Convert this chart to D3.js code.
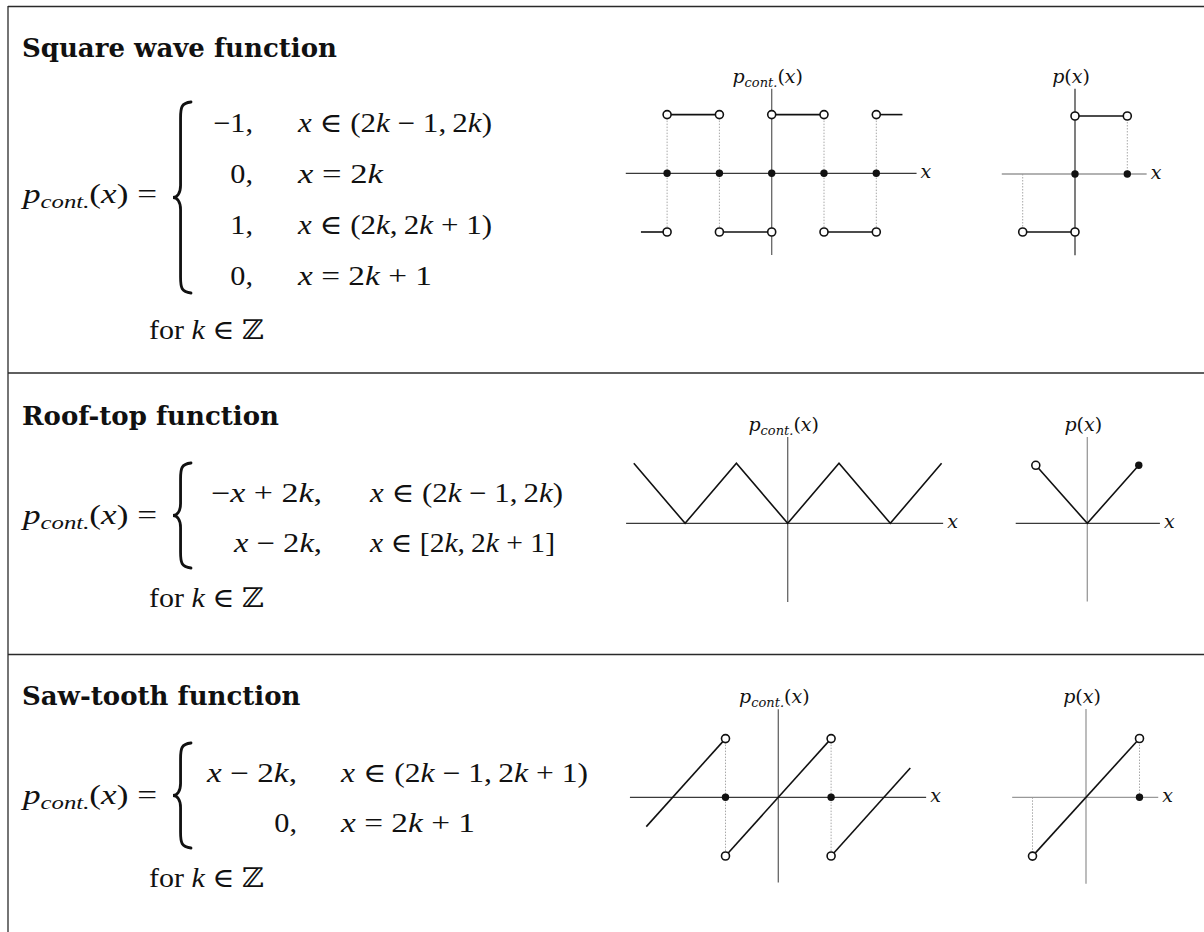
<!DOCTYPE html>
<html>
<head>
<meta charset="utf-8">
<script src="https://cdn.jsdelivr.net/npm/d3@7"></script>
<style>
  html, body { margin: 0; padding: 0; background: #fff; }
  svg { display: block; }
  text { white-space: pre; }
</style>
</head>
<body>
<svg id="chart" width="1204" height="932"></svg>
<script>
// ---------- text content ----------
const sectionTitles = ["Square wave function", "Roof-top function", "Saw-tooth function"];
const lhsText = "p";
const lhsSub = "cont.";
const quantifier = "for k \u2208 \u2124";

const squareValues = ["\u22121,", "0,", "1,", "0,"];
const squareConditions = ["x \u2208 (2k \u2212 1,\u20092k)", "x = 2k", "x \u2208 (2k,\u20092k + 1)", "x = 2k + 1"];
const roofValues = ["\u2212x + 2k,", "x \u2212 2k,"];
const roofConditions = ["x \u2208 (2k \u2212 1,\u20092k)", "x \u2208 [2k,\u20092k + 1]"];
const sawValues = ["x \u2212 2k,", "0,"];
const sawConditions = ["x \u2208 (2k \u2212 1,\u20092k + 1)", "x = 2k + 1"];

// ---------- function sketches (data units) ----------
// square wave, several periods
const squareContSegments = [[[-2.5, -1], [-2, -1]], [[-2, 1], [-1, 1]], [[-1, -1], [0, -1]],
                            [[0, 1], [1, 1]], [[1, -1], [2, -1]], [[2, 1], [2.5, 1]]];
const squareContOpen = [[-2, 1], [-1, 1], [0, 1], [1, 1], [2, 1], [-2, -1], [-1, -1], [0, -1], [1, -1], [2, -1]];
const squareContFilled = [[-2, 0], [-1, 0], [0, 0], [1, 0], [2, 0]];
const squareContGuides = [[-2, 1, -1], [-1, 1, -1], [1, 1, -1], [2, 1, -1]];
// square wave, one period
const squareSegments = [[[0, 1], [1, 1]], [[-1, -1], [0, -1]]];
const squareOpen = [[0, 1], [1, 1], [-1, -1], [0, -1]];
const squareFilled = [[0, 0], [1, 0]];
const squareGuides = [[1, 1, 0], [-1, 0, -1]];
// roof-top, several periods
const roofContSegments = [[[-3, 1], [-2, 0], [-1, 1], [0, 0], [1, 1], [2, 0], [3, 1]]];
// roof-top, one period
const roofSegments = [[[-1, 1], [0, 0], [1, 1]]];
const roofOpen = [[-1, 1]];
const roofFilled = [[1, 1]];
// saw-tooth, several periods
const sawContSegments = [[[-2.5, -0.5], [-1, 1]], [[-1, -1], [1, 1]], [[1, -1], [2.5, 0.5]]];
const sawContOpen = [[-1, 1], [-1, -1], [1, 1], [1, -1]];
const sawContFilled = [[-1, 0], [1, 0]];
const sawContGuides = [[-1, 1, -1], [1, 1, -1]];
// saw-tooth, one period
const sawSegments = [[[-1, -1], [1, 1]]];
const sawOpen = [[1, 1], [-1, -1]];
const sawFilled = [[1, 0]];
const sawGuides = [[1, 1, 0], [-1, 0, -1]];

// axis extents (data units)
const squareContExtent = { x: [-2.79, 2.77], y: [-1.39, 1.44] };
const squareExtent = { x: [-1.4, 1.37], y: [-1.4, 1.47] };
const roofContExtent = { x: [-3.15, 3.03], y: [-1.31, 1.44] };
const roofExtent = { x: [-1.39, 1.41], y: [-1.35, 1.49] };
const sawContExtent = { x: [-2.81, 2.8], y: [-1.45, 1.5] };
const sawExtent = { x: [-1.38, 1.35], y: [-1.47, 1.5] };

// ---------- styling ----------
const INK = "#111";
const DARK_AXIS = "#3a3a3a";
const MID_AXIS = "#666";
const LIGHT_AXIS = "#999";
const MATH_FONT = "'Liberation Serif', 'Times New Roman', 'DejaVu Serif', serif";
const TITLE_FONT = "'DejaVu Serif', serif";
const LABEL_FONT = "'DejaVu Serif', serif";
const MATH_SIZE = 27;
const STRETCH = 1.12;

const svg = d3.select("#chart");

// ---------- table frame ----------
const frame = svg.append("g").attr("stroke", "#2a2a2a").attr("stroke-width", 1.3).attr("fill", "none");
frame.append("line").attr("x1", 8).attr("x2", 1204).attr("y1", 6.5).attr("y2", 6.5);
frame.append("line").attr("x1", 8).attr("x2", 8).attr("y1", 6).attr("y2", 932);
[373, 654.5].forEach(y => frame.append("line").attr("x1", 8).attr("x2", 1204).attr("y1", y).attr("y2", y));

// ---------- typeset helpers ----------
function fit(t, width) {
  const L = t.node().getComputedTextLength();
  t.attr("textLength", width || L * STRETCH).attr("lengthAdjust", "spacingAndGlyphs");
}

// single letters are set in italic (math variables), words in roman
function mathText(parent, str, o) {
  const t = parent.append("text")
    .attr("x", o.x).attr("y", o.y)
    .attr("font-family", MATH_FONT).attr("font-size", o.size || MATH_SIZE)
    .attr("text-anchor", o.anchor || "start").attr("fill", INK);
  const re = /([A-Za-z]+)|([^A-Za-z]+)/g;
  let m;
  while ((m = re.exec(str))) {
    if (m[1]) t.append("tspan").attr("font-style", m[1].length === 1 ? "italic" : "normal").text(m[1]);
    else t.append("tspan").text(m[2]);
  }
  fit(t, o.width);
  return t;
}

function lhs(parent, x, y, width) {
  const t = parent.append("text").attr("x", x).attr("y", y)
    .attr("font-family", MATH_FONT).attr("font-size", MATH_SIZE).attr("fill", INK);
  t.append("tspan").attr("font-style", "italic").text(lhsText);
  t.append("tspan").attr("font-style", "italic").attr("font-size", 19).attr("dy", 5).text(lhsSub);
  t.append("tspan").attr("dy", -5).text("(");
  t.append("tspan").attr("font-style", "italic").text("x");
  t.append("tspan").text(") =");
  fit(t, width);
}

function bracePath(x0, x1, y0, y1) {
  const xm = x0 + (x1 - x0) * 0.42;
  const ym = (y0 + y1) / 2;
  return `M${x1},${y0} C${xm + 1},${y0 + 1} ${xm},${y0 + 5} ${xm},${y0 + 16}` +
         ` L${xm},${ym - 12} C${xm},${ym - 4} ${x0 + 4},${ym} ${x0},${ym}` +
         ` C${x0 + 4},${ym} ${xm},${ym + 4} ${xm},${ym + 12}` +
         ` L${xm},${y1 - 16} C${xm},${y1 - 5} ${xm + 1},${y1 - 1} ${x1},${y1}`;
}

function title(parent, str, y) {
  parent.append("text").attr("x", 22).attr("y", y)
    .attr("font-family", TITLE_FONT).attr("font-weight", "bold").attr("font-size", 26)
    .attr("fill", INK).text(str);
}

// ---------- formulas ----------
const sections = [
  { title: sectionTitles[0], titleY: 57, lhsY: 203, brace: [173, 191, 102, 293],
    values: squareValues, valueRight: 253, conditions: squareConditions, condX: 298,
    condWidths: [194, 85, 194, 134], rows: [132, 183, 234, 285], forY: 339 },
  { title: sectionTitles[1], titleY: 425, lhsY: 524, brace: [173, 191, 463, 568],
    values: roofValues, valueRight: 322, valueWidths: [111, 88], conditions: roofConditions, condX: 370,
    condWidths: [193, 185], rows: [502, 552], forY: 607 },
  { title: sectionTitles[2], titleY: 705, lhsY: 804, brace: [173, 191, 743, 848],
    values: sawValues, valueRight: 297, valueWidths: [90, null], conditions: sawConditions, condX: 341,
    condWidths: [247, 134], rows: [782, 832], forY: 887 }
];

const textLayer = svg.append("g");
sections.forEach(s => {
  title(textLayer, s.title, s.titleY);
  lhs(textLayer, 23, s.lhsY, 134);
  textLayer.append("path").attr("d", bracePath(...s.brace))
    .attr("fill", "none").attr("stroke", INK).attr("stroke-width", 2.8).attr("stroke-linecap", "round");
  s.values.forEach((v, i) => mathText(textLayer, v, {
    x: s.valueRight, y: s.rows[i], anchor: "end", width: s.valueWidths ? s.valueWidths[i] : null }));
  s.conditions.forEach((c, i) => mathText(textLayer, c, { x: s.condX, y: s.rows[i], width: s.condWidths[i] }));
  mathText(textLayer, quantifier, { x: 149, y: s.forY, width: 115 });
});

// ---------- sketches ----------
const panels = [
  { cx: 771.7, cy: 173.3, ux: 52.3, uy: 58.7, ext: squareContExtent, cont: true,
    xAxis: DARK_AXIS, yAxis: MID_AXIS, segs: squareContSegments, open: squareContOpen,
    filled: squareContFilled, guides: squareContGuides },
  { cx: 1075, cy: 174, ux: 52.3, uy: 58, ext: squareExtent, cont: false,
    xAxis: LIGHT_AXIS, yAxis: DARK_AXIS, segs: squareSegments, open: squareOpen,
    filled: squareFilled, guides: squareGuides },
  { cx: 787.7, cy: 523.3, ux: 51.3, uy: 60, ext: roofContExtent, cont: true,
    xAxis: DARK_AXIS, yAxis: MID_AXIS, segs: roofContSegments, open: [], filled: [], guides: [] },
  { cx: 1087.3, cy: 523.3, ux: 51.5, uy: 58, ext: roofExtent, cont: false,
    xAxis: DARK_AXIS, yAxis: LIGHT_AXIS, segs: roofSegments, open: roofOpen, filled: roofFilled, guides: [] },
  { cx: 778.3, cy: 797.3, ux: 52.8, uy: 58.7, ext: sawContExtent, cont: true,
    xAxis: DARK_AXIS, yAxis: MID_AXIS, segs: sawContSegments, open: sawContOpen,
    filled: sawContFilled, guides: sawContGuides },
  { cx: 1086, cy: 797.3, ux: 53.5, uy: 58.8, ext: sawExtent, cont: false,
    xAxis: LIGHT_AXIS, yAxis: LIGHT_AXIS, segs: sawSegments, open: sawOpen,
    filled: sawFilled, guides: sawGuides }
];

panels.forEach(p => {
  const x = d3.scaleLinear().domain([0, 1]).range([p.cx, p.cx + p.ux]);
  const y = d3.scaleLinear().domain([0, 1]).range([p.cy, p.cy - p.uy]);
  const line = d3.line().x(d => x(d[0])).y(d => y(d[1]));
  const g = svg.append("g");

  // dotted drop lines
  g.selectAll(".guide").data(p.guides).join("line").attr("class", "guide")
    .attr("x1", d => x(d[0])).attr("x2", d => x(d[0]))
    .attr("y1", d => y(d[1])).attr("y2", d => y(d[2]))
    .attr("stroke", "#a8a8a8").attr("stroke-width", 1).attr("stroke-dasharray", "1.5,1.5");

  // axes
  g.append("line").attr("x1", x(p.ext.x[0])).attr("x2", x(p.ext.x[1]))
    .attr("y1", y(0)).attr("y2", y(0)).attr("stroke", p.xAxis).attr("stroke-width", 1.3);
  g.append("line").attr("x1", x(0)).attr("x2", x(0))
    .attr("y1", y(p.ext.y[0])).attr("y2", y(p.ext.y[1])).attr("stroke", p.yAxis).attr("stroke-width", 1.3);

  // function graph
  g.selectAll(".seg").data(p.segs).join("path").attr("class", "seg")
    .attr("d", line).attr("fill", "none").attr("stroke", INK).attr("stroke-width", 1.6)
    .attr("stroke-linejoin", "miter");

  // endpoints
  g.selectAll(".open").data(p.open).join("circle").attr("class", "open")
    .attr("cx", d => x(d[0])).attr("cy", d => y(d[1])).attr("r", 4)
    .attr("fill", "#fff").attr("stroke", INK).attr("stroke-width", 1.6);
  g.selectAll(".dot").data(p.filled).join("circle").attr("class", "dot")
    .attr("cx", d => x(d[0])).attr("cy", d => y(d[1])).attr("r", 3.7).attr("fill", INK);

  // axis labels
  const lab = g.append("text").attr("x", x(0) - 4).attr("y", y(p.ext.y[1]) - 6)
    .attr("text-anchor", "middle").attr("font-family", LABEL_FONT).attr("font-size", 19).attr("fill", INK);
  lab.append("tspan").attr("font-style", "italic").text("p");
  if (p.cont) {
    lab.append("tspan").attr("font-style", "italic").attr("font-size", 13).attr("dy", 4).text("cont.");
    lab.append("tspan").attr("dy", -4).text("(");
  } else {
    lab.append("tspan").text("(");
  }
  lab.append("tspan").attr("font-style", "italic").text("x");
  lab.append("tspan").text(")");

  g.append("text").attr("x", x(p.ext.x[1]) + 4).attr("y", y(0) + 5)
    .attr("font-family", LABEL_FONT).attr("font-style", "italic").attr("font-size", 19)
    .attr("fill", INK).text("x");
});
</script>
</body>
</html>
